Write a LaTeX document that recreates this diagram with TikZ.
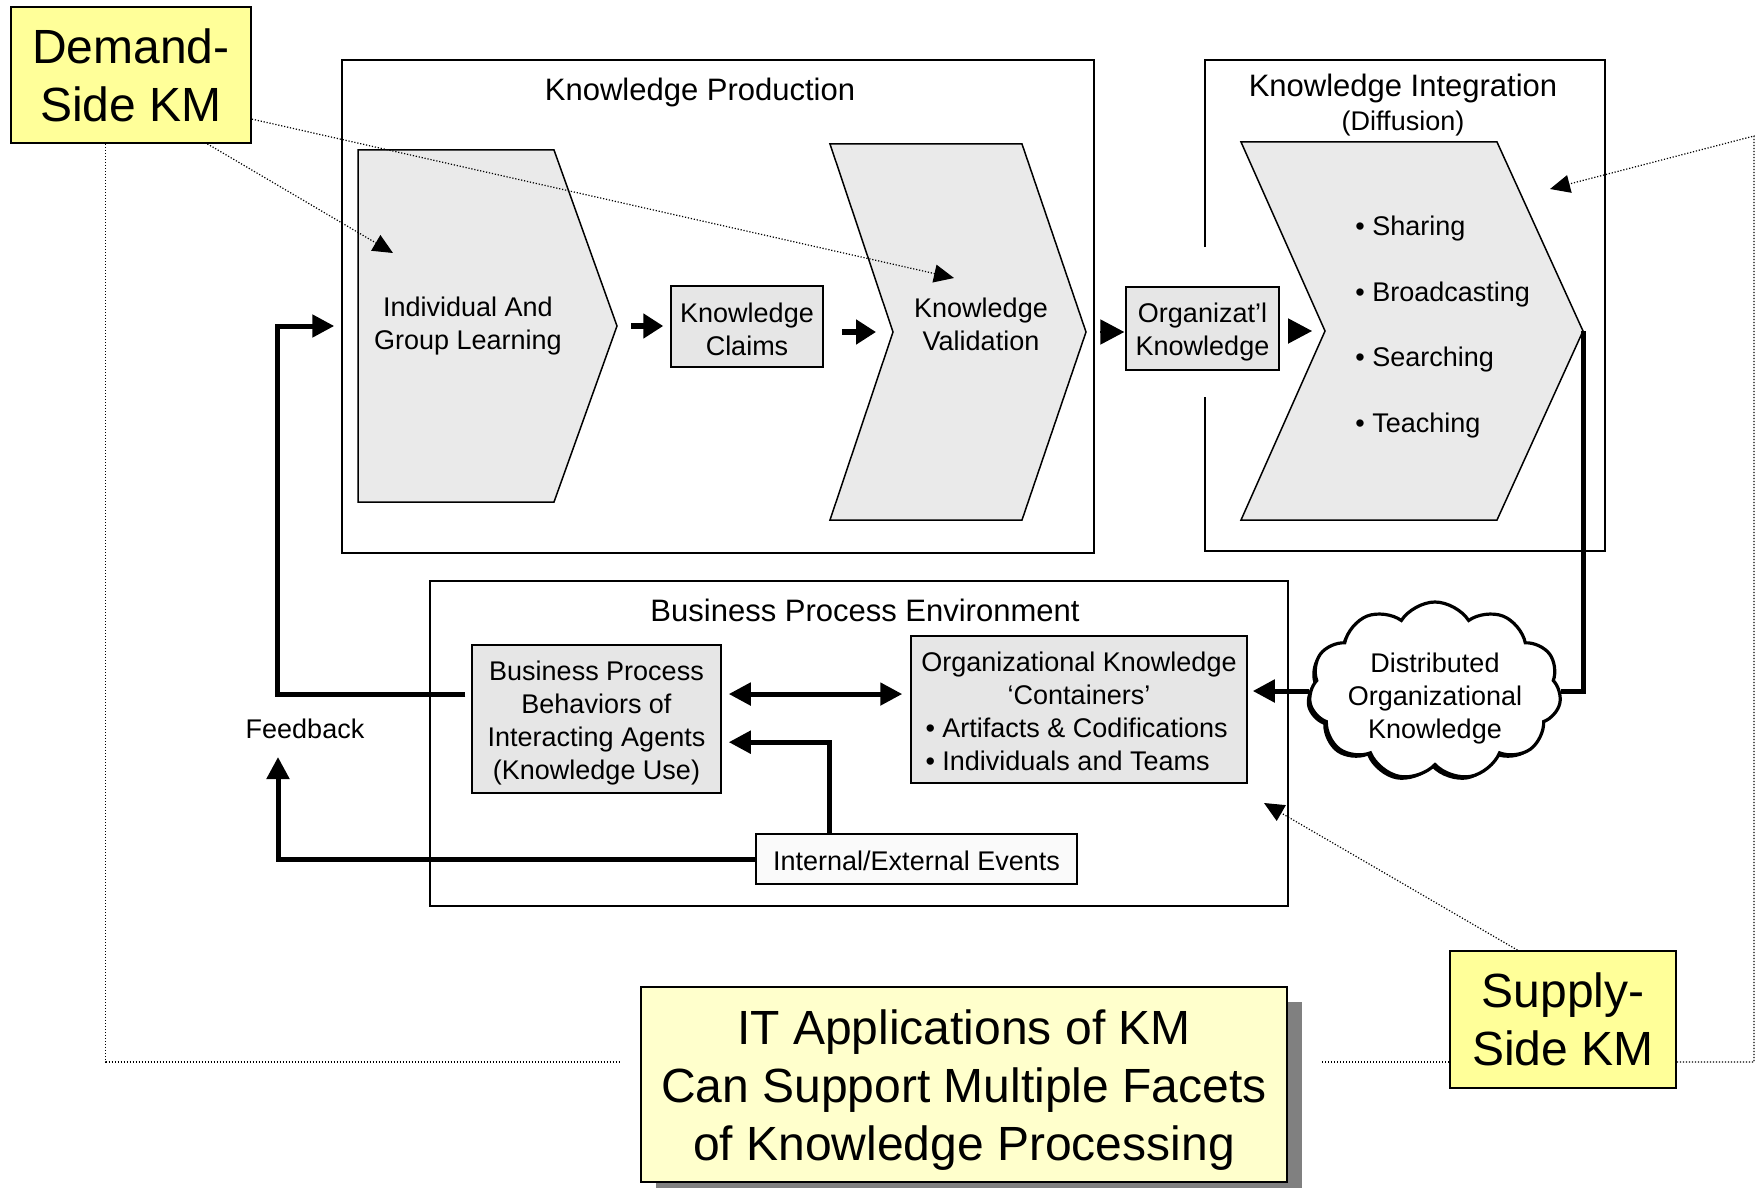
\documentclass[tikz,border=0pt]{standalone}
\usepackage{fontspec}
\setmainfont{Liberation Sans}
\usetikzlibrary{arrows.meta,calc,shapes.symbols,shadows}

\definecolor{kmyellow}{HTML}{FFFF99}
\definecolor{itpale}{HTML}{FFFFCC}
\definecolor{chevgray}{HTML}{EAEAEA}
\definecolor{boxgray}{HTML}{E6E6E6}

\tikzset{
  body/.style={font=\fontsize{13.5}{16.5}\selectfont, align=center},
  ttl/.style={font=\fontsize{15.5}{18}\selectfont, inner sep=0pt},
  big/.style={font=\fontsize{24}{29}\selectfont, align=center},
  frame/.style={draw, line width=0.75pt},
  chev/.style={draw, fill=chevgray, line width=0.75pt},
  graybox/.style={draw, fill=boxgray, line width=0.75pt, inner sep=0pt},
  kmbox/.style={draw, fill=kmyellow, line width=0.9pt, inner sep=0pt, big},
  fat/.style={line width=2.5pt, -{Triangle[length=11pt,width=11pt]}},
  fatboth/.style={line width=2.5pt, {Triangle[length=11pt,width=11pt]}-{Triangle[length=11pt,width=11pt]}},
  fatline/.style={line width=2.5pt},
  step3/.style={line width=3pt, -{Triangle[length=10pt,width=12pt]}},
  headonly/.style={line width=1pt, -{Triangle[length=12pt,width=12.5pt]}},
  dots/.style={line width=0.6pt, dash pattern=on 0.6pt off 0.9pt},
  dotarrow/.style={dots, -{Triangle[length=10pt,width=9pt]}},
}

\begin{document}
\begin{tikzpicture}[x=0.5pt,y=-0.5pt]
\useasboundingbox (0,0) rectangle (1756,1188);

% ---- Knowledge Production frame
\node[frame, minimum width=376pt, minimum height=246.5pt, inner sep=0pt] (kp) at (718,306.5) {};
\node[ttl] (kpt) at (700,92) {Knowledge Production};

% chevron 1
\draw[chev] (358,150) -- (554,150) -- (617,326) coordinate (c1tip) -- (554,502) -- (358,502) -- cycle;
\node[body] (c1t) at (468,326.5) {Individual And\\Group Learning};

% claims
\node[graybox, minimum width=76pt, minimum height=40.5pt] (kc) at (747,326.5) {};
\node[body] (kct) at (747,329) {Knowledge\\Claims};

% chevron 2
\draw[chev] (830,144) -- (1022,144) -- (1086,332) coordinate (c2tip) -- (1022,520) -- (830,520) -- (893,332) coordinate (c2notch) -- cycle;
\node[body] (c2t) at (981,324.5) {Knowledge\\Validation};

% ---- Knowledge Integration frame
\draw[frame] (1205,247) -- (1205,60) -- (1605,60) -- (1605,551) -- (1205,551) -- (1205,397);
\node[ttl] (kit) at (1403,88.5) {Knowledge Integration};
\node[body, inner sep=0pt] (kid) at (1403,123.5) {(Diffusion)};

% chevron 3
\draw[chev] (1241,142) -- (1497,142) -- (1583,331) coordinate (c3tip) -- (1497,520) -- (1241,520) -- (1325,331) coordinate (c3notch) -- cycle;
\node[font=\fontsize{13.5}{32.9}\selectfont, align=left, anchor=west, inner sep=0pt] (c3t) at (1355,327)
  {• Sharing\\• Broadcasting\\• Searching\\• Teaching};

% organizational knowledge box
\node[graybox, minimum width=76.5pt, minimum height=41.5pt] (ok) at (1202.5,328.5) {};
\node[body] (okt) at (1202.5,332) {Organizat’l\\Knowledge};

% ---- Business Process Environment
\node[frame, minimum width=429pt, minimum height=162.5pt, inner sep=0pt] (bpe) at (859,743.5) {};
\node[ttl] (bpet) at (865,610.5) {Business Process Environment};

\node[graybox, minimum width=124.5pt, minimum height=74pt] (bpb) at (596.5,719) {};
\node[body] (bpbt) at (596.5,723.5) {Business Process\\Behaviors of\\Interacting Agents\\(Knowledge Use)};

\node[graybox, minimum width=168pt, minimum height=73.5pt] (oc) at (1079,709.5) {};
\node[body] (oct) at (1079,711)
  {Organizational Knowledge\\‘Containers’\\\makebox[153.5pt][l]{• Artifacts \& Codifications}\\\makebox[153.5pt][l]{• Individuals and Teams}};

\node[draw, fill=gray!4, line width=0.75pt, inner sep=0pt, minimum width=160.5pt, minimum height=25pt] (ev) at (916.5,859) {};
\node[body] (evt0) at (916.5,861) {Internal/External Events};

% cloud
\node[cloud, cloud puffs=11, cloud puff arc=115, aspect=1.41, draw, line width=1.6pt, fill=white,
      minimum width=126pt, minimum height=89pt, inner sep=0pt,
      drop shadow={shadow xshift=-1.5pt, shadow yshift=-1.5pt, fill=black, opacity=1}] (cloud) at (1435,691) {};
\node[body] (cloudt) at (1435,698.5) {Distributed\\Organizational\\Knowledge};

\node[body] (fb) at (305,729) {Feedback};

% ---- KM boxes
\node[kmbox, minimum width=120pt, minimum height=68pt] (dem) at (131,75) {Demand-\\Side KM};
\node[kmbox, minimum width=113pt, minimum height=68.5pt] (sup) at (1563,1019.5) {Supply-\\Side KM};
\node[draw, fill=itpale, line width=0.9pt, inner sep=0pt, minimum width=323pt, minimum height=97.5pt,
      drop shadow={shadow xshift=7.5pt, shadow yshift=-7.5pt, fill=black!50, opacity=1}] (it) at (964,1084.5) {};
\node[big] (itt) at (964,1090) {IT Applications of KM\\Can Support Multiple Facets\\of Knowledge Processing};

% ---- flow arrows
\draw[step3, shorten <=7pt, shorten >=3.5pt] (c1tip) -- (kc.west |- c1tip);
\draw[step3, shorten <=9pt, shorten >=8.5pt] (kc.east |- c2notch) -- (c2notch);
\draw[headonly, shorten <=7pt, shorten >=0.5pt] (c2tip) -- (c2tip -| ok.west);
\draw[headonly, shorten <=4.5pt, shorten >=6.5pt] (ok.east |- c3notch) -- (c3notch);

\draw[fatline] (c3tip) |- (cloud.east);
\draw[fat, shorten >=2.5pt] (cloud.west) -- (cloud.west -| oc.east);

\coordinate (bpbr) at ($(bpb.north east)!0.333!(bpb.south east)$);
\draw[fatboth, shorten <=3.5pt, shorten >=4pt] (bpbr) -- (bpbr -| oc.west);

\coordinate (evt) at ($(ev.north west)!0.23!(ev.north east)$);
\coordinate (bpbr2) at ($(bpb.north east)!0.655!(bpb.south east)$);
\draw[fat, shorten >=3.5pt] (evt) |- (bpbr2);

\coordinate (fbup) at (278,757);
\draw[fat] (ev.west) -| (fbup);

\coordinate (bpbl) at ($(bpb.north west)!0.338!(bpb.south west)$);
\coordinate (kpin) at (kp.west |- c1tip);
\draw[fat, shorten >=3.5pt] ([xshift=-3pt]bpbl) -| ($(kpin)+(-64,0)$) -- (kpin);

% ---- dotted pointers
\coordinate (d1s) at ($(dem.south west)!0.816!(dem.south east)$);
\coordinate (d1e) at (393,253);
\draw[dotarrow] (d1s) -- (d1e);

\coordinate (d2s) at ($(dem.north east)!0.82!(dem.south east)$);
\coordinate (d2e) at (954,278);
\draw[dotarrow] (d2s) -- (d2e);

\coordinate (d3s) at ($(dem.south west)!0.396!(dem.south east)$);
\coordinate (d3e) at (619,1062);
\draw[dots] (d3s) |- (d3e);

\coordinate (d4s) at (1322,1062);
\draw[dots] (d4s) -- (sup.west |- d4s);

\coordinate (d5c) at (1754,1062);
\coordinate (d5e) at (1550,189);
\draw[dotarrow] (sup.east |- d4s) -- (d5c) -- (1754,136) -- (d5e);

\coordinate (d6s) at ($(sup.north west)!0.3!(sup.north east)$);
\coordinate (d6e) at (1264,803);
\draw[dotarrow] (d6s) -- (d6e);

\end{tikzpicture}
\end{document}
